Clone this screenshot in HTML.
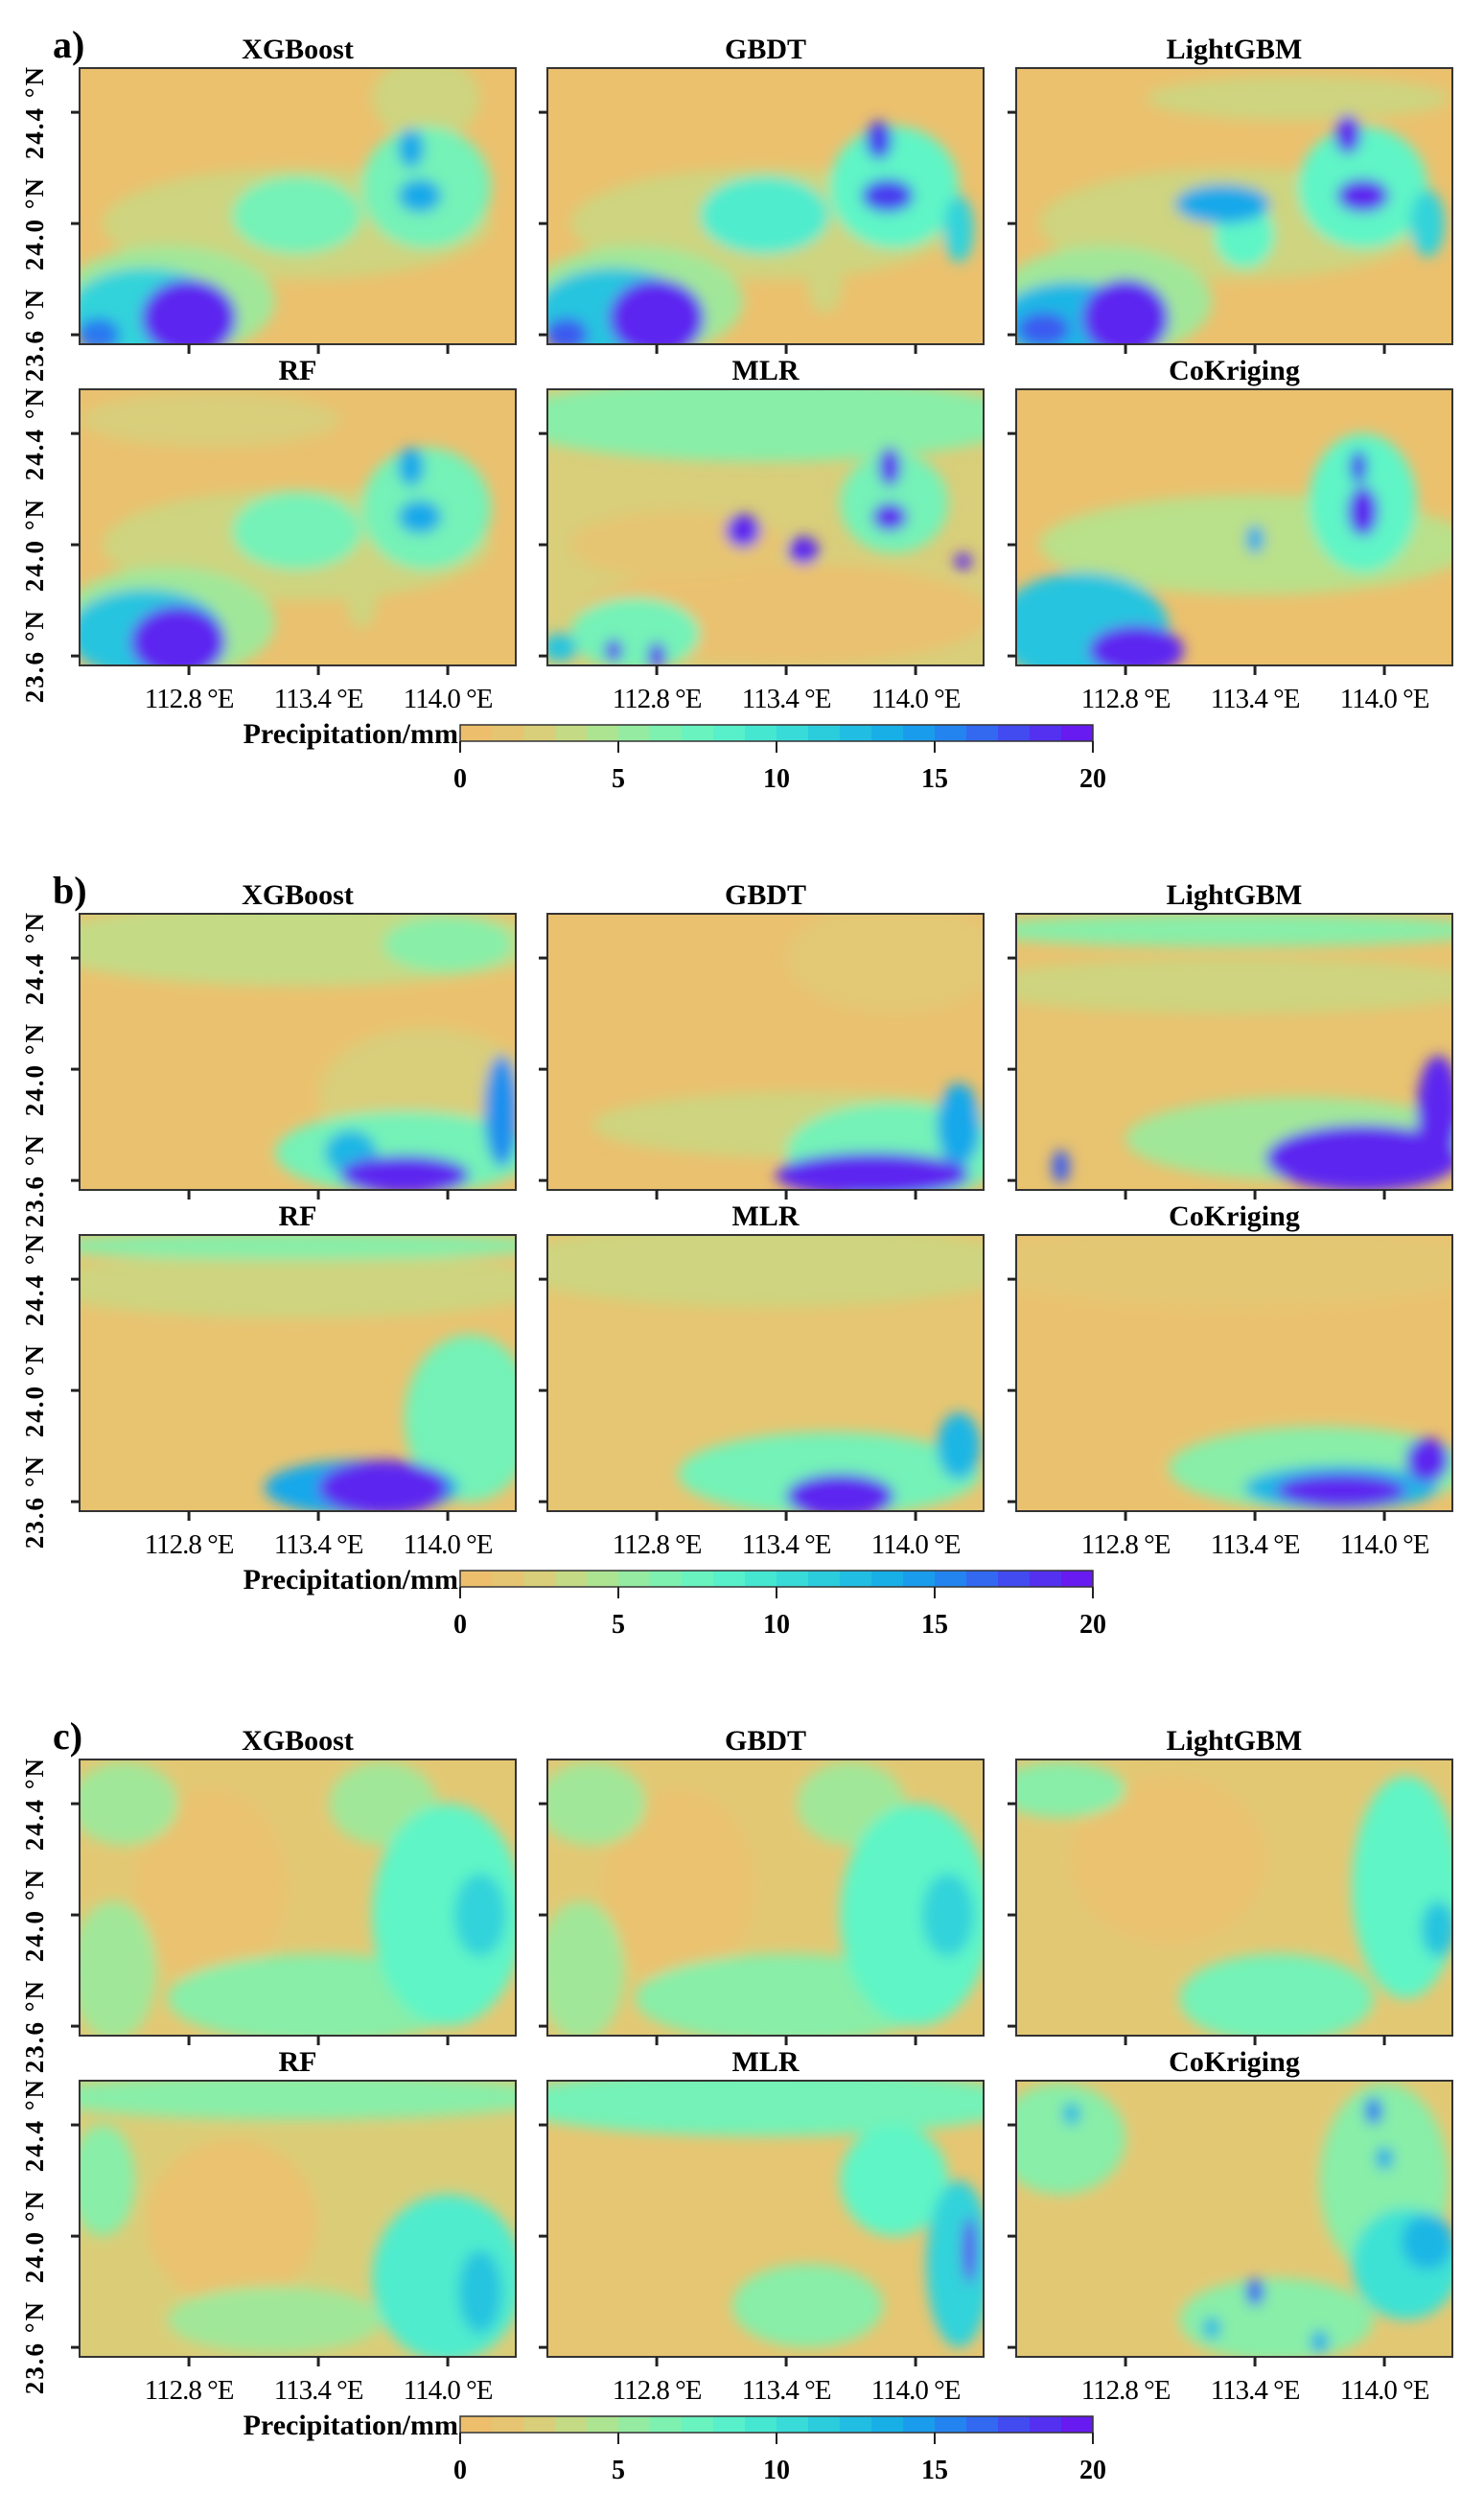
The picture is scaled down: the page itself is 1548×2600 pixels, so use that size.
<!DOCTYPE html>
<html><head><meta charset="utf-8">
<style>
html,body{margin:0;padding:0;background:#fff;}
#root{position:relative;width:1548px;height:2600px;overflow:hidden;font-family:"Liberation Serif",serif;}
svg{position:absolute;left:0;top:0;}
</style></head>
<body><div id="root">
<svg id="fig" width="1548" height="2600" viewBox="0 0 1548 2600">
<defs>
<filter id="blur" x="-50%" y="-50%" width="200%" height="200%"><feGaussianBlur stdDeviation="7"/></filter>
</defs>
</svg>
</div>
<script>
// ---- data ----
const sectionLabels = ["a)", "b)", "c)"];
const modelNames = ["XGBoost", "GBDT", "LightGBM", "RF", "MLR", "CoKriging"];
const lonTicks = [112.8, 113.4, 114.0];
const lonTickLabels = ["112.8 °E", "113.4 °E", "114.0 °E"];
const latTicks = [23.6, 24.0, 24.4];
const latTickLabels = ["23.6 °N", "24.0 °N", "24.4 °N"];
const cbTicks = [0, 5, 10, 15, 20];
const baseA = [0.8, 0.8, 0.8, 0.9, 2.5, 0.8];
const baseB = [1.0, 0.9, 1.2, 1.3, 1.6, 1.0];
const baseC = [2.0, 2.0, 2.0, 2.4, 1.6, 2.0];
// blobs: [lon, lat, rxDeg, ryDeg, value]
const a_XGBoost = [[113.3,24.0,0.9,0.2,3],[113.9,24.45,0.25,0.15,3],[112.7,23.72,0.5,0.2,5],[113.3,24.03,0.3,0.14,7],[113.9,24.13,0.3,0.22,7],[112.6,23.68,0.36,0.16,11],[113.83,24.27,0.06,0.07,14],[113.87,24.1,0.1,0.06,14],[112.8,23.66,0.22,0.14,19],[112.38,23.6,0.1,0.06,16]];
const a_GBDT = [[113.3,24.0,0.9,0.2,3],[113.58,23.78,0.08,0.1,3],[112.7,23.72,0.5,0.2,5],[113.3,24.03,0.3,0.14,9],[113.9,24.13,0.3,0.22,8],[114.2,23.98,0.07,0.12,11],[112.6,23.68,0.36,0.16,12],[113.83,24.3,0.06,0.07,18],[113.87,24.1,0.12,0.06,18],[112.8,23.66,0.22,0.14,19],[112.38,23.6,0.1,0.06,17]];
const a_LightGBM = [[113.3,24.0,0.9,0.2,3],[113.6,24.45,0.7,0.08,3],[112.7,23.72,0.5,0.2,5],[113.35,23.96,0.14,0.12,8],[113.9,24.13,0.3,0.22,8],[114.2,24.0,0.08,0.12,11],[113.25,24.07,0.22,0.07,14],[112.55,23.65,0.34,0.14,13],[113.83,24.32,0.06,0.07,19],[113.9,24.1,0.12,0.06,19],[112.8,23.66,0.2,0.14,19],[112.42,23.62,0.12,0.06,17]];
const a_RF = [[113.3,24.0,0.9,0.2,3],[112.9,24.45,0.6,0.1,2.5],[113.6,23.8,0.07,0.1,3],[112.7,23.72,0.5,0.2,5],[113.3,24.05,0.3,0.14,7],[113.9,24.13,0.3,0.22,7],[112.6,23.68,0.36,0.16,12],[113.83,24.28,0.06,0.07,14],[113.87,24.1,0.1,0.06,14],[112.75,23.65,0.22,0.13,19]];
const a_MLR = [[113.3,24.45,1.2,0.15,6],[113.4,23.75,0.95,0.18,0.9],[112.9,24.0,0.5,0.12,1.5],[112.7,23.68,0.3,0.13,7],[113.9,24.15,0.25,0.18,7],[113.2,24.05,0.08,0.06,19],[113.48,23.98,0.07,0.05,19],[113.88,24.28,0.05,0.07,19],[113.88,24.1,0.08,0.05,19],[114.22,23.94,0.04,0.03,19],[112.6,23.62,0.04,0.04,19],[112.8,23.6,0.04,0.05,19],[112.35,23.63,0.08,0.05,12]];
const a_CoKriging = [[113.4,24.0,1.0,0.18,4],[113.9,24.15,0.25,0.25,8],[112.6,23.7,0.4,0.2,12],[113.88,24.28,0.04,0.06,18],[113.9,24.12,0.07,0.09,19],[113.4,24.02,0.04,0.05,14],[112.85,23.62,0.22,0.09,19]];
const b_XGBoost = [[113.3,24.45,1.2,0.15,3.5],[114.0,24.45,0.3,0.1,6],[113.9,23.9,0.5,0.25,2.5],[113.8,23.7,0.6,0.15,7],[114.25,23.85,0.08,0.2,15],[113.55,23.7,0.12,0.08,13],[113.8,23.62,0.3,0.07,19]];
const b_GBDT = [[113.9,24.4,0.5,0.2,2],[113.5,23.8,1.0,0.12,3],[113.9,23.7,0.5,0.18,7],[114.2,23.8,0.1,0.15,14],[113.8,23.62,0.45,0.08,19]];
const b_LightGBM = [[113.3,24.3,1.2,0.1,3],[113.3,24.5,1.2,0.06,6],[113.6,23.75,0.8,0.15,5],[113.9,23.68,0.45,0.12,19],[114.25,23.85,0.1,0.2,19],[112.5,23.65,0.04,0.06,17]];
const b_RF = [[113.3,24.38,1.2,0.12,3],[113.3,24.52,1.2,0.05,6],[114.1,23.9,0.3,0.3,7],[113.6,23.65,0.45,0.1,14],[113.7,23.65,0.3,0.1,19]];
const b_MLR = [[113.3,24.45,1.2,0.15,3],[113.6,23.7,0.7,0.15,7],[114.2,23.8,0.1,0.12,13],[113.65,23.62,0.25,0.08,19]];
const b_CoKriging = [[113.3,24.45,1.2,0.15,1.8],[113.7,23.72,0.7,0.15,6],[113.8,23.65,0.45,0.08,13],[113.8,23.64,0.3,0.06,19],[114.2,23.75,0.1,0.08,19]];
const c_XGBoost = [[112.9,24.1,0.35,0.35,1],[112.45,23.8,0.2,0.25,5],[112.5,24.4,0.25,0.15,5],[113.4,23.7,0.7,0.16,6],[113.7,24.4,0.25,0.15,5],[114.0,24.0,0.35,0.4,8],[114.15,24.0,0.12,0.15,11]];
const c_GBDT = [[112.9,24.1,0.35,0.35,1],[112.45,23.8,0.2,0.25,5],[112.5,24.4,0.25,0.15,5],[113.4,23.7,0.7,0.16,6],[113.7,24.4,0.25,0.15,5],[114.0,24.0,0.35,0.4,8],[114.15,24.0,0.12,0.15,11]];
const c_LightGBM = [[113.0,24.2,0.45,0.3,1],[112.5,24.45,0.3,0.1,6],[113.5,23.7,0.45,0.16,7],[114.1,24.1,0.25,0.4,8],[114.25,23.95,0.08,0.1,12]];
const c_RF = [[113.0,24.05,0.4,0.3,1],[113.3,24.5,1.2,0.08,6],[112.4,24.2,0.15,0.2,6],[113.2,23.7,0.5,0.12,5],[114.0,23.85,0.35,0.3,9],[114.15,23.8,0.1,0.15,12]];
const c_MLR = [[113.3,24.48,1.2,0.12,7],[113.9,24.2,0.25,0.2,8],[113.5,23.75,0.35,0.15,6],[114.2,23.9,0.15,0.3,11],[114.25,23.95,0.03,0.12,19]];
const c_CoKriging = [[112.5,24.35,0.3,0.2,6],[114.0,24.2,0.3,0.35,6],[113.5,23.7,0.45,0.15,6],[114.1,23.9,0.25,0.2,10],[112.55,24.44,0.04,0.04,13],[113.95,24.45,0.04,0.05,16],[114.0,24.28,0.04,0.04,14],[114.2,23.98,0.12,0.1,13],[113.4,23.8,0.04,0.05,17],[113.7,23.62,0.04,0.04,14],[113.2,23.67,0.04,0.04,13]];
const sectionBlobs = [
  [a_XGBoost, a_GBDT, a_LightGBM, a_RF, a_MLR, a_CoKriging],
  [b_XGBoost, b_GBDT, b_LightGBM, b_RF, b_MLR, b_CoKriging],
  [c_XGBoost, c_GBDT, c_LightGBM, c_RF, c_MLR, c_CoKriging]];
const sectionBase = [baseA, baseB, baseC];

// ---- color scale ----
const stops = [[0,[240,188,106]],[2,[227,200,116]],[4,[185,224,138]],[6,[136,238,168]],[8,[95,245,198]],[10,[62,226,212]],[12,[37,196,223]],[14,[19,168,234]],[16,[42,120,240]],[18,[74,60,240]],[20,[112,16,240]]];
function col(v){
  v=Math.max(0,Math.min(20,v));
  for(let i=0;i<stops.length-1;i++){
    const [a,ca]=stops[i],[b,cb]=stops[i+1];
    if(v<=b){const t=(v-a)/(b-a);return 'rgb('+ca.map((c,k)=>Math.round(c+(cb[k]-c)*t)).join(',')+')';}
  }
  return 'rgb(112,16,240)';
}

// ---- layout / axes ----
const NS='http://www.w3.org/2000/svg';
const svg=document.getElementById('fig');
const secOff=[0,882,1764];
const colX=[83,571,1060];
const rowY=[71,406];
const PW=455, PH=288;
const lonMin=112.293, pxPerLon=225, latMax=24.559, pxPerLat=290;
function xs(lon){return (lon-lonMin)*pxPerLon;}
function ys(lat){return (latMax-lat)*pxPerLat;}
function mk(tag,attrs,parent){const e=document.createElementNS(NS,tag);for(const k in attrs)e.setAttribute(k,attrs[k]);(parent||svg).appendChild(e);return e;}

let clipId=0;
sectionLabels.forEach((lab,s)=>{
  const oy=secOff[s];
  const sl=mk('text',{x:55,y:oy+60,'font-size':40,'font-weight':'bold'});
  
  
  sl.textContent=lab;
  modelNames.forEach((m,i)=>{
    const r=Math.floor(i/3),c=i%3;
    const px=colX[c],py=oy+rowY[r];
    const g=mk('g',{transform:'translate('+px+','+py+')'});
    
    
    const cid='clip'+(clipId++);
    const cp=mk('clipPath',{id:cid},g);mk('rect',{x:0,y:0,width:PW,height:PH},cp);
    const inner=mk('g',{'clip-path':'url(#'+cid+')'},g);
    const bg=mk('rect',{x:0,y:0,width:PW,height:PH,fill:col(sectionBase[s][i])},inner);
    
    
    const bl=mk('g',{filter:'url(#blur)'},inner);
    sectionBlobs[s][i].forEach(b=>{
      const e=mk('ellipse',{cx:xs(b[0]),cy:ys(b[1]),rx:b[2]*pxPerLon,ry:b[3]*pxPerLat,fill:col(b[4])},bl);
      
      
    });
    mk('rect',{x:0,y:0,width:PW,height:PH,fill:'none',stroke:'#333','stroke-width':2},g);
    const t=mk('text',{x:PW/2,y:-10,'text-anchor':'middle','font-size':30,'font-weight':'bold'},g);
    
    
    t.textContent=m;
    latTicks.forEach((lt,k)=>{
      mk('line',{x1:-9,x2:0,y1:ys(lt),y2:ys(lt),stroke:'#222','stroke-width':3},g);
      if(c===0){
        const tl=mk('text',{transform:'translate('+(-38)+','+ys(lt)+') rotate(-90)','text-anchor':'middle','font-size':27,'font-weight':'bold','letter-spacing':'2'},g);
        
        
        tl.textContent=latTickLabels[k];
      }
    });
    lonTicks.forEach((ln,k)=>{
      mk('line',{x1:xs(ln),x2:xs(ln),y1:PH,y2:PH+10,stroke:'#222','stroke-width':3},g);
      if(r===1){
        const xl=mk('text',{x:xs(ln),y:PH+44,'text-anchor':'middle','font-size':29,'letter-spacing':'-1'},g);
        
        
        xl.textContent=lonTickLabels[k];
      }
    });
  });
  // colorbar
  const cb=mk('g',{transform:'translate(480,'+(oy+756)+')'});
  
  
  const CW=660,CH=17,n=20;
  for(let k=0;k<n;k++){
    mk('rect',{x:k*CW/n,y:0,width:CW/n+0.5,height:CH,fill:col(k+0.5)},cb);
  }
  mk('rect',{x:0,y:0,width:CW,height:CH,fill:'none',stroke:'#333','stroke-width':1.5},cb);
  cbTicks.forEach(v=>{
    const x=v/20*CW;
    mk('line',{x1:x,x2:x,y1:CH,y2:CH+12,stroke:'#222','stroke-width':2},cb);
    const tl=mk('text',{x:x,y:CH+48,'text-anchor':'middle','font-size':28,'font-weight':'bold'},cb);
    
    
    tl.textContent=v;
  });
  const ct=mk('text',{x:-2,y:CH+2,'text-anchor':'end','font-size':30,'font-weight':'bold'},cb);
  
  
  ct.textContent='Precipitation/mm';
});
</script>
</body></html>
